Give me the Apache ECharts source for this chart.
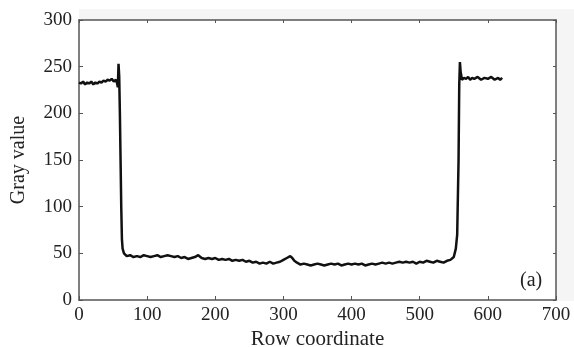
<!DOCTYPE html>
<html>
<head>
<meta charset="utf-8">
<script src="https://cdn.jsdelivr.net/npm/echarts@6/dist/echarts.min.js"></script>
<style>html,body{margin:0;padding:0;background:#fff}#c{width:574px;height:347px}</style>
</head>
<body>
<div id="c"></div>
<script>
const rowX = [0,3,6,9,12,15,18,21,24,27,30,33,36,39,42,45,48,51,54,56,57,58,59,60,61,62,63,64,66,68,
70,75,80,85,90,95,100,105,110,115,120,125,130,135,140,145,150,155,160,165,170,175,180,185,190,195,
200,205,210,215,220,225,230,235,240,245,250,255,260,265,270,275,280,285,290,295,300,305,310,313,316,
320,325,330,335,340,345,350,355,360,365,370,375,380,385,390,395,400,405,410,415,420,425,430,435,440,
445,450,455,460,465,470,475,480,485,490,495,500,505,510,515,520,525,530,535,540,545,550,553,555,557,
558,559,560,562,565,568,571,574,577,580,585,590,595,600,605,610,615,618,621];
const grayY = [233,232,234,231,233,232,234,231,233,232,234,233,235,234,236,235,237,234,236,232,228,253,240,200,150,100,65,55,50,48,
47,48,46,47,46,48,47,46,47,48,46,47,48,47,46,47,45,46,44,45,46,48,45,44,45,44,
45,43,44,43,44,42,43,42,43,41,42,40,41,39,40,39,41,39,40,41,43,45,47,45,42,
40,38,39,38,37,38,39,38,37,38,39,38,39,37,38,39,38,39,38,39,37,38,39,38,39,
40,39,40,39,40,41,40,41,40,41,39,41,40,42,41,40,42,41,40,42,43,46,55,70,150,
230,255,245,236,238,237,239,236,238,237,239,236,238,237,239,236,238,236,238];
const xTicks = [0,100,200,300,400,500,600,700];
const yTicks = [0,50,100,150,200,250,300];

const font = 'Liberation Serif';
const axisCol = '#555';
const chart = echarts.init(document.getElementById('c'), null, {renderer:'canvas'});
const data = rowX.map((x,i)=>[x, grayY[i]]);
chart.setOption({
  backgroundColor:'#fff',
  animation:false,
  graphic:[
    {type:'rect', shape:{x:79,y:9,width:495,height:11}, style:{fill:'#f5f5f5'}, silent:true, z:-10},
    {type:'rect', shape:{x:557,y:9,width:17,height:292}, style:{fill:'#f5f5f5'}, silent:true, z:-10},
    {type:'text', left:520, top:271, style:{text:'(a)', font:'20px "Liberation Serif"', fill:'#222'}}
  ],
  grid:{left:79, right:18, top:20, bottom:47, show:true, backgroundColor:'#fff', borderWidth:0,
    containLabel:false, outerBoundsMode:'none'},
  xAxis:[{
    type:'value', min:0, max:700, interval:100,
    name:'Row coordinate', nameLocation:'middle', nameGap:29, nameMoveOverlap:false,
    nameTextStyle:{fontFamily:font, fontSize:21, color:'#222'},
    axisLine:{show:true, onZero:false, lineStyle:{color:axisCol, width:1.5}},
    axisTick:{show:true, inside:true, length:4, lineStyle:{color:axisCol}},
    axisLabel:{fontFamily:font, fontSize:19, color:'#222', margin:6,
      formatter:v=>xTicks.includes(v)?String(v):''},
    splitLine:{show:false}
  },{
    type:'value', position:'top', min:0, max:700, interval:100,
    axisLine:{show:true, onZero:false, lineStyle:{color:axisCol, width:1.5}},
    axisTick:{show:true, inside:true, length:3, lineStyle:{color:axisCol}},
    axisLabel:{show:false}, splitLine:{show:false}
  }],
  yAxis:[{
    type:'value', min:0, max:300, interval:50,
    name:'Gray value', nameLocation:'middle', nameGap:50, nameRotate:90, nameMoveOverlap:false,
    nameTextStyle:{fontFamily:font, fontSize:20, color:'#222'},
    axisLine:{show:true, onZero:false, lineStyle:{color:axisCol, width:1.5}},
    axisTick:{show:true, inside:true, length:4, lineStyle:{color:axisCol}},
    axisLabel:{fontFamily:font, fontSize:19, color:'#222', margin:7,
      formatter:v=>yTicks.includes(v)?String(v):''},
    splitLine:{show:false}
  },{
    type:'value', position:'right', min:0, max:300, interval:50,
    axisLine:{show:true, onZero:false, lineStyle:{color:axisCol, width:1.5}},
    axisTick:{show:true, inside:true, length:3, lineStyle:{color:axisCol}},
    axisLabel:{show:false}, splitLine:{show:false}
  }],
  series:[{
    type:'line', data:data, showSymbol:false, symbol:'none',
    lineStyle:{color:'#111', width:2.5}, z:5
  }]
});
</script>
</body>
</html>
